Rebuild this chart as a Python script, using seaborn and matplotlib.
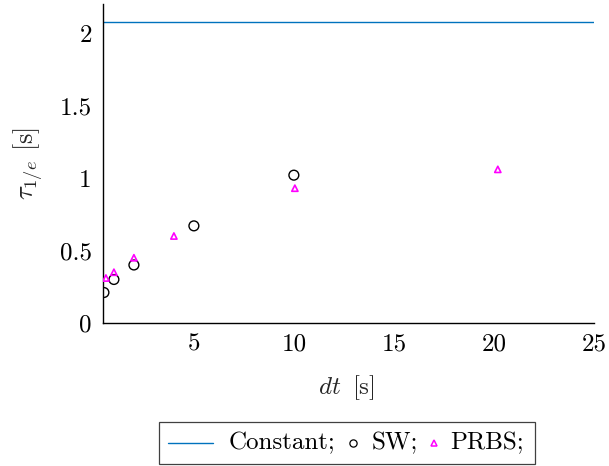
import matplotlib
matplotlib.use("Agg")
import matplotlib.pyplot as plt
import seaborn as sns
import pandas as pd
from matplotlib.lines import Line2D
from matplotlib.offsetbox import (AnchoredOffsetbox, DrawingArea, HPacker,
                                  TextArea)

# Time constant tau_{1/e} versus sampling step dt
constant_tau = 2.075

sw_dt = [0.5, 1.0, 2.0, 5.0, 10.0]
sw_tau = [0.21, 0.30, 0.40, 0.67, 1.02]

prbs_dt = [0.6, 1.0, 2.0, 4.0, 10.05, 20.2]
prbs_tau = [0.31, 0.35, 0.45, 0.60, 0.93, 1.06]

x_ticks = [5, 10, 15, 20, 25]
y_ticks = [0, 0.5, 1, 1.5, 2]
y_tick_labels = ["0", "0.5", "1", "1.5", "2"]

legend_labels = ["Constant;", "SW;", "PRBS;"]

sns.set_theme(style="white")
plt.rcParams["font.family"] = ["cmr10", "DejaVu Serif"]
plt.rcParams["mathtext.fontset"] = "cm"
plt.rcParams["axes.unicode_minus"] = False

FS = 18
LINE_COLOR = "#0072BD"
TRI_COLOR = "#ff00ff"

sw = pd.DataFrame({"dt": sw_dt, "tau": sw_tau})
prbs = pd.DataFrame({"dt": prbs_dt, "tau": prbs_tau})

fig = plt.figure(figsize=(6.09, 4.66), dpi=100)
ax = fig.add_axes([0.169, 0.307, 0.806, 0.684])

ax.axhline(constant_tau, color=LINE_COLOR, lw=1.0, zorder=2)

sns.scatterplot(data=sw, x="dt", y="tau", ax=ax, marker="o", s=50,
                facecolor="none", edgecolor="black", linewidth=1.0, zorder=3)
sns.scatterplot(data=prbs, x="dt", y="tau", ax=ax, marker="^", s=20,
                facecolor="none", edgecolor=TRI_COLOR, linewidth=1.2, zorder=3)

ax.set_xlim(0.45, 25)
ax.set_ylim(0, 2.2)
ax.set_xticks(x_ticks)
ax.set_xticklabels([str(t) for t in x_ticks])
ax.set_yticks(y_ticks)
ax.set_yticklabels(y_tick_labels)

for side in ["top", "right"]:
    ax.spines[side].set_visible(False)
for side in ["left", "bottom"]:
    ax.spines[side].set_color("black")
    ax.spines[side].set_linewidth(1.0)

ax.tick_params(axis="both", direction="in", length=7, width=0.8,
               color="#a0a0a0", labelsize=FS, labelcolor="black")
ax.tick_params(axis="x", pad=7.5)
ax.tick_params(axis="y", pad=8)

ax.set_xlabel(r"$dt\,$ [s]", fontsize=FS)
ax.set_ylabel(r"$\tau_{1/e}$ [s]", fontsize=FS + 1)
ax.xaxis.set_label_coords(0.495, -0.158)
ax.yaxis.set_label_coords(-0.118, 0.5)

# Legend row below the axes, built from packed boxes
PX = 72.0 / fig.dpi          # points per pixel
H = 25.5 * PX                # inner height of the handle areas


def handle_area(width_px, artist):
    da = DrawingArea(width_px * PX, H, 0, 0)
    da.add_artist(artist)
    return da


line_handle = Line2D([0, 45 * PX], [H / 2, H / 2], color=LINE_COLOR, lw=1.0)
circle_handle = Line2D([17 * PX], [H / 2], ls="none", marker="o", ms=5.2,
                       mfc="none", mec="black", mew=0.9)
tri_handle = Line2D([16 * PX], [H / 2], ls="none", marker="^", ms=3.8,
                    mfc="none", mec=TRI_COLOR, mew=1.1)

text_props = dict(fontsize=FS, color="black")
children = [
    handle_area(61, line_handle),
    TextArea(legend_labels[0], textprops=text_props),
    handle_area(36, circle_handle),
    TextArea(legend_labels[1], textprops=text_props),
    handle_area(32, tri_handle),
    TextArea(legend_labels[2], textprops=text_props),
    DrawingArea(3 * PX, H, 0, 0),
]
row = HPacker(children=children, align="center", pad=0, sep=0)
box = AnchoredOffsetbox(loc="upper center", child=row, pad=0.34,
                        borderpad=0, frameon=True, prop=dict(size=FS),
                        bbox_to_anchor=(0.498, -0.31),
                        bbox_transform=ax.transAxes)
box.patch.set_edgecolor("#404040")
box.patch.set_linewidth(0.9)
box.patch.set_boxstyle("square", pad=0)
ax.add_artist(box)

fig.savefig("out.png", dpi=100)
